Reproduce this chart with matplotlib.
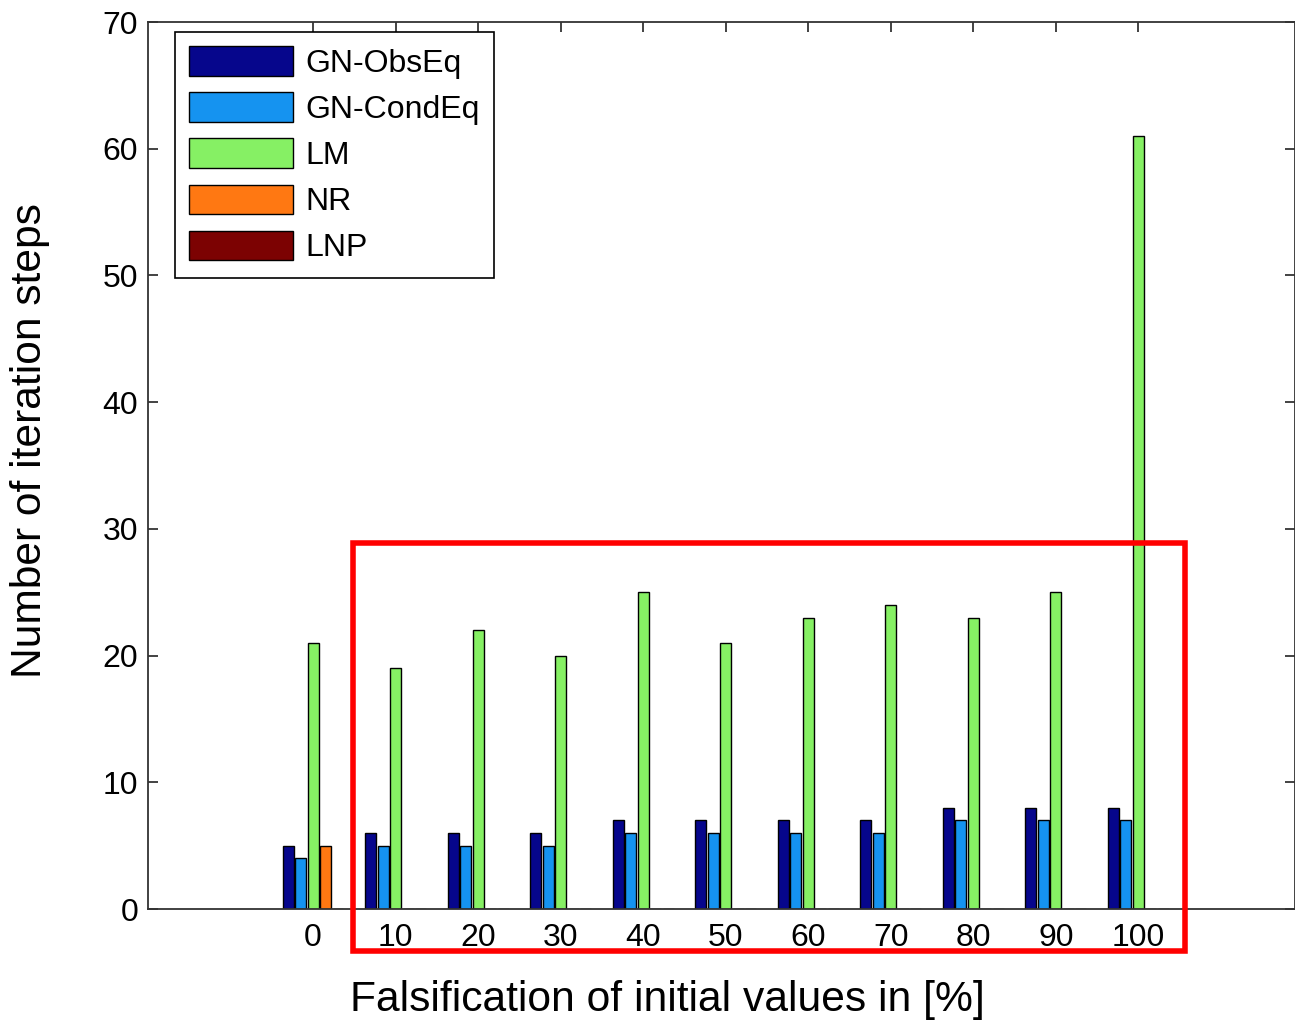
import matplotlib
matplotlib.use('Agg')
import matplotlib.pyplot as plt
from matplotlib.patches import Rectangle
import numpy as np

plt.rcParams['font.family'] = ['Liberation Sans', 'DejaVu Sans']

# falsification levels in percent
falsification = [0, 10, 20, 30, 40, 50, 60, 70, 80, 90, 100]

# iteration steps per method
gn_obseq = [5, 6, 6, 6, 7, 7, 7, 7, 8, 8, 8]
gn_condeq = [4, 5, 5, 5, 6, 6, 6, 6, 7, 7, 7]
lm = [21, 19, 22, 20, 25, 21, 23, 24, 23, 25, 61]
nr = [5, 0, 0, 0, 0, 0, 0, 0, 0, 0, 0]
lnp = [0, 0, 0, 0, 0, 0, 0, 0, 0, 0, 0]

methods = ['GN-ObsEq', 'GN-CondEq', 'LM', 'NR', 'LNP']
colors = ['#06068c', '#1593f0', '#86f064', '#ff7812', '#7c0202']

fig = plt.figure(figsize=(12.95, 10.26), dpi=100)
ax = fig.add_axes([0.1143, 0.114, 0.8858, 0.8645])

x = np.array(falsification, dtype=float)
series = [gn_obseq, gn_condeq, lm, nr, lnp]
step = 1.51
width = 1.33
for i, (vals, col, name) in enumerate(zip(series, colors, methods)):
    ax.bar(x + (i - 2) * step, vals, width=width, color=col,
           edgecolor='black', linewidth=1.0, label=name, zorder=2)

ax.set_xlim(-20, 119)
ax.set_ylim(0, 70)
ax.set_xticks(falsification)
ax.set_yticks(np.arange(0, 71, 10))
ax.tick_params(direction='in', length=7, width=1.2, top=True, right=True,
               labelsize=23, colors='#222222', labelcolor='black')
ax.tick_params(axis='x', pad=10)
ax.tick_params(axis='y', pad=7)
for s in ax.spines.values():
    s.set_linewidth(1.3)
    s.set_color('#333333')

ax.set_xlabel('Falsification of initial values in [%]', fontsize=30.7)
ax.xaxis.set_label_coords(0.453, -0.080)
ax.set_ylabel('Number of iteration steps', fontsize=30.6)
ax.yaxis.set_label_coords(-0.0855, 0.528)

leg = ax.legend(loc='upper left', bbox_to_anchor=(0.0235, 0.989), fontsize=23,
                handlelength=3.25, handleheight=1.05, handletextpad=0.38,
                labelspacing=0.42, borderpad=0.45, borderaxespad=0,
                fancybox=False, framealpha=1, edgecolor='black')
leg.get_frame().set_linewidth(1.2)

# highlighted range 10 % .. 100 %
ax.add_patch(Rectangle((4.8, -3.35), 100.9, 32.25, fill=False,
                       edgecolor='#ff0000', linewidth=4, clip_on=False, zorder=5))

fig.savefig('out.png', dpi=100)
